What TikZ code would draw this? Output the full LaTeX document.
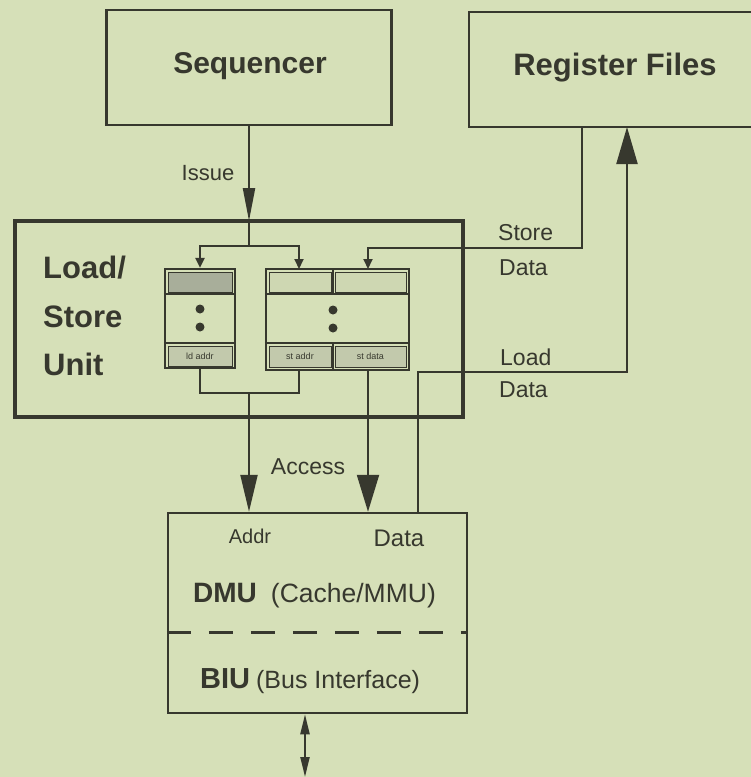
\documentclass[tikz,border=0pt]{standalone}
\usepackage{fontspec}
\setmainfont{Liberation Sans}
\usetikzlibrary{arrows.meta,calc}
\definecolor{paper}{RGB}{214,224,184}
\definecolor{ink}{RGB}{55,56,46}
\definecolor{cellgray}{RGB}{168,174,154}
\definecolor{celllight}{RGB}{194,201,172}
\definecolor{celltop}{RGB}{206,215,178}
\newcommand{\fsz}[1]{\fontsize{#1}{#1}\selectfont}

\begin{document}
\begin{tikzpicture}[x=1pt,y=-1pt,
  box/.style={draw=ink, line width=2.5pt, rectangle, inner sep=0pt},
  conn/.style={draw=ink, line width=2.2pt},
  divider/.style={draw=ink, line width=1.8pt},
  cell/.style={draw=ink, line width=1pt},
  lbl/.style={text=ink, inner sep=0pt},
  title/.style={lbl, font=\bfseries\fsz{30}},
  smalltip/.style={-{Triangle[width=9pt,length=10pt]}},
  issuetip/.style={-{Triangle[width=12pt,length=33pt]}},
  bigtip/.style={-{Triangle[width=#1,length=37pt]}},
  bustip/.style={{Triangle[width=9pt,length=20pt]}-{Triangle[width=9pt,length=20pt]}}
]
\useasboundingbox (0,0) rectangle (751,777);
\fill[paper] (0,0) rectangle (751,777);
\clip (0,0) rectangle (751,777);

% --- top blocks ---
\node[box, minimum width=285pt, minimum height=115pt] (seq) at (249,67.5) {};
\node[title] (seqtxt) at (250,66) {Sequencer};
\node[box, minimum width=291pt, minimum height=115pt] (rf) at (614.5,69.5) {};
\node[title, font=\bfseries\fsz{31}] (rftxt) at (615,68) {Register Files};

% --- load/store unit ---
\node[box, line width=3.5pt, minimum width=448pt, minimum height=196pt] (lsu) at (239,319) {};
\node[lbl, font=\bfseries\fsz{31}, anchor=base west] (lsua) at (43,278) {Load/};
\node[lbl, font=\bfseries\fsz{31}, anchor=base west] (lsub) at (43,327) {Store};
\node[lbl, font=\bfseries\fsz{31}, anchor=base west] (lsuc) at (43,375) {Unit};

% load queue
\node[box, line width=2.2pt, minimum width=70pt, minimum height=99pt] (ldq) at (200,318.5) {};
\draw[cell, fill=cellgray] (168,272) rectangle (232,292);
\draw[divider] (ldq.west |- 0,294) -- (ldq.east |- 0,294);
\draw[divider] (ldq.west |- 0,343) -- (ldq.east |- 0,343);
\fill[ink] (200,309) circle (4.5);
\fill[ink] (200,327) circle (4.5);
\draw[cell, fill=celllight] (168,346) rectangle (232,366);
\node[lbl, font=\fsz{9}] (ldaddr) at (200,356) {ld addr};

% store queue
\node[box, line width=2.2pt, minimum width=143pt, minimum height=101pt] (stq) at (337.5,319.5) {};
\draw[cell, fill=celltop] (269,272) rectangle (331,292);
\draw[cell, fill=celltop] (335,272) rectangle (406,292);
\draw[divider] (333,269) -- (333,294);
\draw[divider] (stq.west |- 0,294) -- (stq.east |- 0,294);
\draw[divider] (stq.west |- 0,343) -- (stq.east |- 0,343);
\draw[divider] (333,343) -- (333,370);
\fill[ink] (333,310) circle (4.5);
\fill[ink] (333,328) circle (4.5);
\draw[cell, fill=celllight] (269,346) rectangle (331,367);
\draw[cell, fill=celllight] (335,346) rectangle (406,367);
\node[lbl, font=\fsz{9}] (staddr) at (300,356.5) {st addr};
\node[lbl, font=\fsz{9}] (stdata) at (370.5,356.5) {st data};

% --- data memory unit ---
\node[box, minimum width=299pt, minimum height=200pt] (dmu) at (317.5,613) {};
\draw[ink, line width=3pt, dash pattern=on 24pt off 18pt] (dmu.west |- 0,632) -- (dmu.east |- 0,632);
\node[lbl, anchor=base west] (dmutxt) at (193,602)
  {{\bfseries\fsz{28}DMU}\hspace{14pt}{\fsz{26.5}(Cache/MMU)}};
\node[lbl, anchor=base west] (biutxt) at (200,688)
  {{\bfseries\fsz{29}BIU}\hspace{6pt}{\fsz{25}(Bus Interface)}};
\node[lbl, font=\fsz{20}] (addrlbl) at (250,536) {Addr};
\node[lbl, font=\fsz{24}] (datalbl) at (399,538) {Data};

% --- connection points ---
\coordinate (issuein) at (249,221);
\coordinate (branch) at (249,246);
\coordinate (sain) at (299,269);
\coordinate (sdin) at (368,269);
\coordinate (sdturn) at (368,248);
\coordinate (stout) at (582,127);
\coordinate (saout) at (299,370);
\coordinate (mergeR) at (299,393);
\coordinate (merge) at (249,393);
\coordinate (sdout) at (368,370);
\coordinate (ldback) at (418,513);
\coordinate (ldturn) at (627,372);
\coordinate (ldin) at (627,127);
\coordinate (busout) at (305,777);

% issue path
\draw[conn, issuetip] (seq.south) -- (issuein);
\draw[conn] (issuein) -- (branch);
\draw[conn, line width=2pt, smalltip] (branch) -| (ldq.north);
\draw[conn, line width=2pt, smalltip] (branch) -| (sain);
\node[lbl, font=\fsz{22}] (issuelbl) at (208,173) {Issue};

% store data from the register files
\draw[conn, line width=2pt, smalltip] (stout) |- (sdturn) -- (sdin);
\node[lbl, font=\fsz{23}, anchor=west] (storelbl) at (498,233) {Store};
\node[lbl, font=\fsz{23}, anchor=west] (sdatalbl) at (499,268) {Data};

% access paths to the DMU
\draw[conn] (ldq.south) |- (mergeR) -- (saout);
\draw[conn, bigtip=17pt] (merge) -- (merge |- dmu.north);
\draw[conn, bigtip=22pt] (sdout) -- (sdout |- dmu.north);
\node[lbl, font=\fsz{23}] (accesslbl) at (308,467) {Access};

% load data back to the register files
\draw[conn, bigtip=21pt] (ldback) |- (ldturn) -- (ldin);
\node[lbl, font=\fsz{23}, anchor=west] (loadlbl) at (500,357) {Load};
\node[lbl, font=\fsz{23}, anchor=west] (ldatalbl) at (499,390) {Data};

% bus
\draw[conn, bustip] (dmu.south -| busout) -- (busout);
\end{tikzpicture}
\end{document}
